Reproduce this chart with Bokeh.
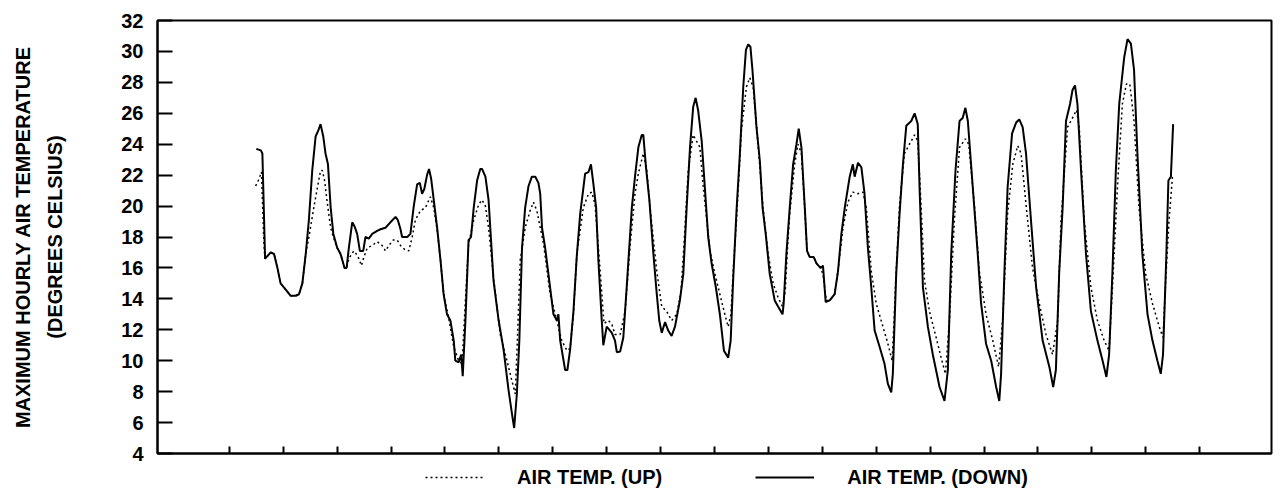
from bokeh.plotting import figure
from bokeh.layouts import column
from bokeh.models import Range1d, FixedTicker, LinearAxis, Legend, LegendItem
from bokeh.embed import file_html
from bokeh.resources import INLINE

# Time axis in hours (one tick per day)
x_ticks = list(range(0, 433, 24))
y_ticks = list(range(4, 33, 2))

hours_down = [12.0, 14.0, 14.7, 15.9, 18.4, 19.9, 21.4, 22.8, 25.1, 27.3, 29.5, 31.0, 32.5, 34.0, 35.4, 36.9,
              38.4, 39.6, 40.6, 41.8, 42.8, 43.9, 45.1, 46.3, 48.0, 49.5, 51.3, 52.2, 53.2, 54.7, 55.7, 56.9,
              58.1, 59.6, 60.6, 62.1, 63.6, 65.8, 67.3, 69.5, 71.7, 74.0, 75.0, 76.2, 76.9, 79.2, 80.6, 82.1,
              83.6, 84.8, 85.8, 86.8, 88.0, 88.9, 89.8, 91.0, 92.5, 94.0, 95.4, 96.9, 98.4, 99.9, 100.6, 102.1,
              103.2, 103.9, 105.1, 106.5, 107.6, 108.8, 110.3, 111.7, 112.5, 114.0, 115.4, 117.6, 119.9, 122.1,
              124.3, 125.8, 126.8, 128.0, 129.1, 130.3, 131.7, 133.2, 134.7, 136.2, 137.6, 138.4, 139.2, 140.6,
              142.8, 144.3, 145.8, 146.5, 147.3, 149.5, 150.5, 151.7, 153.2, 154.7, 156.2, 158.4, 159.9, 161.0,
              162.1, 163.3, 164.3, 165.8, 166.5, 168.0, 170.3, 171.7, 172.5, 174.0, 175.4, 176.9, 179.2, 180.6,
              182.1, 183.6, 184.3, 185.5, 187.0, 188.8, 190.3, 191.4, 192.5, 194.0, 195.4, 196.9, 198.4, 200.6,
              202.1, 203.6, 205.1, 206.5, 207.6, 208.7, 210.3, 211.7, 213.2, 214.7, 216.6, 218.4, 220.2, 222.1,
              223.2, 224.3, 225.8, 227.3, 228.8, 230.0, 231.0, 232.0, 232.9, 234.7, 236.2, 237.4, 238.8, 240.6,
              242.8, 244.3, 246.3, 246.8, 248.0, 249.5, 251.0, 252.5, 253.5, 254.7, 256.2, 257.2, 258.4, 260.2,
              261.4, 263.2, 264.3, 265.5, 267.3, 269.5, 271.0, 272.5, 274.0, 276.2, 277.6, 278.4, 279.9, 281.4,
              282.8, 284.3, 285.8, 287.3, 289.5, 291.7, 293.2, 294.7, 295.4, 296.9, 298.4, 299.9, 301.4, 303.6,
              305.1, 306.5, 307.3, 308.8, 311.0, 313.2, 316.2, 318.4, 319.9, 321.4, 323.3, 325.1, 326.5, 327.7,
              328.8, 331.0, 333.2, 334.7, 336.9, 339.2, 341.4, 342.8, 343.6, 345.1, 346.5, 348.5, 350.3, 351.7,
              353.2, 354.7, 356.9, 359.2, 362.1, 365.1, 366.8, 368.0, 369.5, 371.0, 372.5, 374.3, 375.4, 376.5,
              377.6, 379.2, 381.4, 383.6, 386.5, 388.8, 390.5, 391.7, 393.2, 394.7, 396.2, 398.4, 399.9, 401.4,
              402.8, 404.3, 406.5, 408.8, 411.0, 413.2, 414.7, 415.7, 417.2, 418.1, 419.2, 420.2]
temp_down = [23.7, 23.6, 23.4, 16.6, 17.0, 16.9, 16.0, 15.0, 14.6, 14.2, 14.2, 14.3, 15.0, 16.9, 19.1, 22.3,
             24.5, 24.9, 25.3, 24.5, 23.4, 22.7, 19.9, 18.2, 17.3, 16.9, 16.0, 16.0, 17.3, 18.95, 18.7, 18.2,
             17.1, 17.1, 18.0, 17.9, 18.2, 18.4, 18.5, 18.6, 18.95, 19.3, 19.1, 18.5, 18.0, 18.0, 18.2, 20.0,
             21.4, 21.5, 20.8, 21.1, 22.0, 22.4, 21.8, 20.4, 18.6, 16.5, 14.3, 13.0, 12.6, 11.3, 10.0, 9.9,
             10.4, 9.0, 12.6, 17.8, 18.0, 19.9, 21.65, 22.4, 22.4, 21.9, 20.4, 15.2, 12.6, 10.7,
             8.1, 6.6, 5.65, 7.85, 11.3, 17.3, 19.9, 21.3, 21.9, 21.9, 21.5, 20.8, 18.6, 17.3,
             14.75, 13.0, 12.6, 13.0, 11.3, 9.4, 9.4, 10.7, 13.2, 16.8, 19.5, 22.1, 22.2, 22.7,
             21.4, 19.9, 16.5, 12.6, 11.0, 12.2, 11.8, 11.3, 10.55, 10.6, 11.5, 14.75, 19.9, 21.9,
             23.8, 24.6, 24.6, 22.5, 20.4, 16.9, 14.3, 12.6, 11.8, 12.5, 11.95, 11.6, 12.2, 13.9,
             15.6, 19.9, 23.8, 26.4, 27.0, 26.2, 24.2, 21.2, 18.0, 16.3, 14.75, 13.0, 10.65, 10.2,
             11.3, 15.2, 19.7, 23.4, 27.7, 30.1, 30.45, 30.3, 28.8, 25.1, 22.9, 19.9, 18.2, 15.6,
             13.9, 13.5, 13.0, 13.7, 16.9, 19.9, 22.7, 24.0, 25.0, 23.8, 19.9, 17.1, 16.7, 16.7,
             16.3, 16.0, 16.15, 13.8, 13.9, 14.3, 15.8, 18.2, 19.9, 21.9, 22.7, 21.9, 22.8, 22.5,
             20.8, 17.3, 14.75, 11.95, 10.9, 9.8, 8.5, 7.95, 9.15, 15.6, 19.5, 22.7, 25.2, 25.5,
             26.0, 25.3, 21.2, 14.75, 12.2, 10.4, 8.3, 7.4, 9.4, 16.9, 22.3, 25.5, 25.7, 26.35,
             25.5, 21.2, 16.9, 13.7, 11.1, 10.0, 8.3, 7.4, 9.15, 15.8, 21.2, 24.7, 25.4, 25.6,
             25.1, 23.4, 19.1, 14.75, 11.3, 9.6, 8.3, 9.4, 15.8, 19.9, 25.5, 26.6, 27.5, 27.8,
             26.6, 22.3, 16.9, 13.2, 11.3, 10.0, 8.95, 10.4, 15.8, 22.3, 26.6, 29.6, 30.8, 30.5,
             28.8, 23.4, 16.9, 13.0, 11.3, 10.0, 9.15, 10.4, 16.9, 21.65, 21.9, 25.3]

hours_up = [11.7, 13.2, 14.3, 15.4, 15.9, 18.4, 19.9, 21.4, 22.8, 25.1, 27.3, 29.5, 31.0, 32.5, 34.0, 35.4,
            37.6, 39.2, 40.6, 41.4, 42.4, 43.6, 45.1, 46.3, 48.0, 49.5, 51.3, 52.2, 53.2, 55.4, 57.1, 58.8,
            59.9, 61.4, 63.6, 65.8, 68.0, 69.5, 71.0, 72.9, 74.7, 76.2, 78.0, 79.9, 81.4, 82.8, 85.1, 87.3,
            89.5, 91.0, 92.6, 94.0, 95.4, 97.6, 99.9, 102.1, 103.6, 105.1, 106.5, 108.8, 111.0, 112.5, 114.0,
            115.4, 117.6, 120.6, 123.6, 125.8, 127.3, 128.4, 129.5, 131.7, 133.9, 135.4, 136.9, 139.9, 142.8,
            145.8, 148.0, 150.3, 151.7, 153.2, 154.7, 157.6, 159.9, 161.4, 162.8, 165.1, 166.8, 168.7, 170.2,
            171.7, 174.0, 176.2, 178.5, 180.6, 182.1, 184.3, 185.8, 187.3, 190.3, 192.5, 194.7, 196.9, 199.2,
            201.1, 202.4, 204.3, 206.5, 208.0, 209.5, 211.0, 214.0, 216.2, 218.4, 220.6, 222.1, 223.3, 224.4,
            225.8, 228.0, 230.2, 231.7, 233.2, 235.4, 237.6, 239.9, 242.1, 244.3, 246.3, 247.5, 248.6, 249.5,
            251.7, 253.2, 254.7, 256.2, 257.2, 258.4, 260.2, 261.4, 263.2, 264.3, 265.8, 267.3, 269.5, 271.0,
            273.2, 275.4, 277.6, 279.9, 282.1, 283.6, 285.8, 288.0, 291.0, 293.2, 295.1, 295.9, 296.9, 298.4,
            300.6, 302.8, 305.1, 306.5, 307.6, 309.5, 311.7, 314.7, 316.9, 318.8, 320.6, 322.8, 325.1, 327.7,
            329.2, 331.7, 333.9, 336.9, 339.9, 342.5, 344.3, 346.5, 348.8, 351.0, 352.5, 354.7, 357.6, 360.6,
            363.6, 366.5, 368.8, 370.3, 373.2, 375.4, 377.2, 378.4, 380.6, 383.6, 386.5, 389.5, 391.7, 393.2,
            395.4, 397.6, 399.4, 400.9, 402.8, 405.0, 408.0, 411.0, 414.0, 415.7, 416.9, 418.4, 419.9]
temp_up = [21.3, 21.75, 22.2, 17.5, 16.6, 17.0, 16.9, 16.0, 15.0, 14.6, 14.2, 14.2, 14.3, 15.0, 16.9, 18.0,
           19.9, 21.2, 22.3, 22.3, 21.65, 20.2, 18.6, 18.0, 17.3, 16.9, 16.0, 16.0, 16.6, 17.1, 16.8, 16.15,
           16.7, 17.3, 17.45, 17.7, 17.45, 17.1, 17.45, 17.8, 17.8, 17.45, 17.2, 17.1, 18.0, 19.1, 19.7, 19.9,
           20.6, 19.9, 18.4, 16.5, 14.3, 12.8, 10.9, 10.0, 9.8, 13.9, 17.55, 19.1, 20.1, 20.4, 20.0,
           18.6, 15.4, 11.7, 10.0, 8.7, 7.85, 12.0, 16.5, 18.6, 19.7, 20.25, 19.7, 17.55, 14.3,
           12.6, 11.3, 10.65, 10.8, 13.0, 16.9, 19.9, 20.8, 20.9, 20.1, 15.8, 12.4, 12.6, 12.4,
           11.7, 11.7, 13.2, 17.55, 20.8, 22.1, 23.4, 22.4, 19.9, 15.8, 13.5, 13.2, 12.6, 13.0,
           14.5, 17.5, 22.3, 24.6, 24.2, 23.8, 21.2, 17.1, 15.6, 14.3, 13.0, 12.2, 13.0, 16.0,
           19.1, 24.9, 27.7, 28.3, 27.7, 24.0, 19.9, 16.9, 15.0, 14.1, 13.5, 14.5, 17.5, 19.5,
           22.7, 24.0, 23.4, 19.9, 17.1, 16.7, 16.7, 16.3, 16.0, 15.6, 13.9, 13.9, 14.3, 15.8,
           18.6, 20.25, 20.9, 20.8, 20.9, 19.9, 15.8, 13.7, 12.2, 11.1, 10.0, 12.5, 15.8, 20.1,
           23.4, 24.0, 24.6, 24.2, 21.2, 15.2, 13.2, 11.5, 10.2, 9.15, 12.6, 19.1, 23.8, 24.35,
           24.0, 20.1, 15.8, 13.0, 11.3, 9.6, 12.6, 19.5, 22.7, 23.9, 23.4, 20.1, 16.0, 13.7,
           11.7, 10.4, 12.6, 19.1, 25.1, 25.7, 26.2, 25.1, 19.1, 14.75, 12.6, 11.3, 10.65, 14.75,
           21.2, 26.6, 27.9, 27.9, 25.5, 19.9, 15.6, 13.7, 12.2, 11.5, 15.2, 19.1, 21.9]

FONT = "Liberation Sans"
SOLID = dict(line_color="black", line_width=2)
DOTTED = dict(line_color="black", line_width=1.5, line_dash="2 3")

p = figure(width=1286, height=464, output_backend="svg", toolbar_location=None,
           x_range=Range1d(-32, 464), y_range=Range1d(4, 32),
           min_border_left=157, min_border_right=15, min_border_top=20, min_border_bottom=11)
p.grid.visible = False
p.outline_line_color = "black"
p.outline_line_width = 2
p.background_fill_color = "white"
p.border_fill_color = "white"

r_down = p.line(hours_down, temp_down, **SOLID)
r_up = p.line(hours_up, temp_up, **DOTTED)

# y axis (inner)
ya = p.yaxis[0]
ya.ticker = FixedTicker(ticks=y_ticks)
ya.major_tick_in = 15
ya.major_tick_out = 0
ya.minor_tick_line_color = None
ya.axis_line_width = 2
ya.major_tick_line_width = 2
ya.major_label_standoff = 14
ya.major_label_text_font = FONT
ya.major_label_text_font_style = "bold"
ya.major_label_text_font_size = "20px"
ya.major_label_text_color = "black"
ya.axis_label = "(DEGREES CELSIUS)"
ya.axis_label_standoff = 52
ya.axis_label_text_font = FONT
ya.axis_label_text_font_style = "bold"
ya.axis_label_text_font_size = "20px"
ya.axis_label_text_color = "black"

outer = LinearAxis(ticker=FixedTicker(ticks=[]), axis_label="MAXIMUM HOURLY AIR TEMPERATURE",
                   axis_line_color=None, major_tick_line_color=None, minor_tick_line_color=None,
                   major_tick_in=0, major_tick_out=0, major_label_standoff=0,
                   axis_label_standoff=8, axis_label_text_font=FONT,
                   axis_label_text_font_style="bold", axis_label_text_font_size="20px",
                   axis_label_text_color="black")
p.add_layout(outer, "left")

# x axis (ticks only, labels invisible)
xa = p.xaxis[0]
xa.ticker = FixedTicker(ticks=x_ticks)
xa.major_tick_in = 7
xa.major_tick_out = 0
xa.minor_tick_line_color = None
xa.axis_line_width = 2
xa.major_tick_line_width = 2
xa.major_label_text_font_size = "1px"
xa.major_label_text_alpha = 0
xa.major_label_standoff = 0

# Legend strip below the chart (same series, drawn outside its visible range, only for the key)
pl = figure(width=1286, height=34, output_backend="svg", toolbar_location=None,
            x_range=p.x_range, y_range=Range1d(0, 1), x_axis_type=None, y_axis_type=None,
            min_border_left=0, min_border_right=0, min_border_top=0, min_border_bottom=0)
pl.grid.visible = False
pl.outline_line_color = None
pl.background_fill_color = "white"
pl.border_fill_color = "white"
lg_up = pl.line(hours_up, temp_up, **DOTTED)
lg_down = pl.line(hours_down, temp_down, **SOLID)

legend = Legend(items=[LegendItem(label="AIR TEMP. (UP)", renderers=[lg_up]),
                       LegendItem(label="AIR TEMP. (DOWN)", renderers=[lg_down])],
                orientation="horizontal", location=(268, 9),
                glyph_width=59, glyph_height=24, label_standoff=33, spacing=93,
                padding=0, margin=0, border_line_color=None, background_fill_alpha=0,
                label_text_font=FONT, label_text_font_style="bold", label_text_font_size="20px",
                label_height=24, label_text_color="black")
pl.add_layout(legend, "center")

layout = column(p, pl, spacing=0)
open("out.html", "w").write(file_html(layout, INLINE))
